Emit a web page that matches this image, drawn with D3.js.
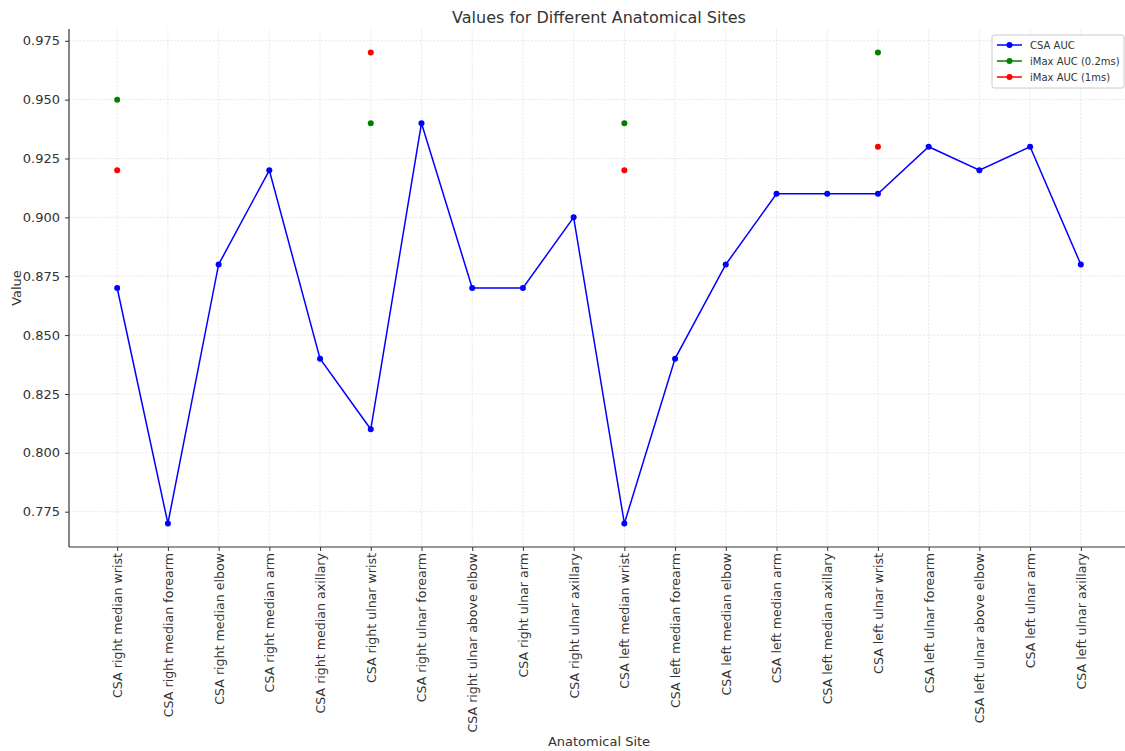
<!DOCTYPE html>
<html>
<head>
<meta charset="utf-8">
<script src="https://cdn.jsdelivr.net/npm/d3@7"></script>
<style>
  body { margin: 0; background: #fff; }
  text { font-family: "DejaVu Sans", sans-serif; fill: #333; }
</style>
</head>
<body>
<script>
var sites = [
  'CSA right median wrist', 'CSA right median forearm', 'CSA right median elbow',
  'CSA right median arm', 'CSA right median axillary', 'CSA right ulnar wrist',
  'CSA right ulnar forearm', 'CSA right ulnar above elbow', 'CSA right ulnar arm',
  'CSA right ulnar axillary', 'CSA left median wrist', 'CSA left median forearm',
  'CSA left median elbow', 'CSA left median arm', 'CSA left median axillary',
  'CSA left ulnar wrist', 'CSA left ulnar forearm', 'CSA left ulnar above elbow',
  'CSA left ulnar arm', 'CSA left ulnar axillary'
];
var csaAuc = [0.87, 0.77, 0.88, 0.92, 0.84, 0.81, 0.94, 0.87, 0.87, 0.90,
              0.77, 0.84, 0.88, 0.91, 0.91, 0.91, 0.93, 0.92, 0.93, 0.88];
var imax02Sites = ['CSA right median wrist', 'CSA right ulnar wrist', 'CSA left median wrist', 'CSA left ulnar wrist'];
var imax02Auc = [0.95, 0.94, 0.94, 0.97];
var imax1Sites = ['CSA right median wrist', 'CSA right ulnar wrist', 'CSA left median wrist', 'CSA left ulnar wrist'];
var imax1Auc = [0.92, 0.97, 0.92, 0.93];
var yTicks = [0.775, 0.800, 0.825, 0.850, 0.875, 0.900, 0.925, 0.950, 0.975];

var W = 1125, H = 751;
var plotLeft = 69, plotRight = 1129, plotTop = 29, plotBottom = 547;

var svg = d3.select('body').append('svg')
  .attr('width', W).attr('height', H);

var n = sites.length;
var x = d3.scaleLinear().domain([-0.95, n - 1 + 0.95]).range([plotLeft, plotRight]);
var y = d3.scaleLinear().domain([0.76, 0.98]).range([plotBottom, plotTop]);
var xi = function(s) { return x(sites.indexOf(s)); };

// grid
var grid = svg.append('g').attr('stroke', '#e2e2e2').attr('stroke-width', 0.8)
  .attr('stroke-dasharray', '2,1.5');
grid.selectAll('.gx').data(sites).enter().append('line')
  .attr('x1', function(d) { return xi(d); }).attr('x2', function(d) { return xi(d); })
  .attr('y1', plotTop).attr('y2', plotBottom);
grid.selectAll('.gy').data(yTicks).enter().append('line')
  .attr('x1', plotLeft).attr('x2', plotRight)
  .attr('y1', function(d) { return y(d); }).attr('y2', function(d) { return y(d); });

// axes
var yAxis = d3.axisLeft(y).tickValues(yTicks).tickFormat(d3.format('.3f')).tickSize(4).tickPadding(5);
var gy = svg.append('g').attr('transform', 'translate(' + plotLeft + ',0)').call(yAxis);
gy.selectAll('text').style('font-size', '13px').attr('fill', '#333');

var xAxis = d3.axisBottom(x).tickValues(d3.range(n)).tickFormat(function(i) { return sites[i]; })
  .tickSize(4).tickPadding(5);
var gx = svg.append('g').attr('transform', 'translate(0,' + plotBottom + ')').call(xAxis);
gx.selectAll('text').style('font-size', '12.6px').attr('fill', '#333')
  .attr('transform', 'rotate(-90)')
  .attr('text-anchor', 'end')
  .attr('x', -6).attr('y', 0).attr('dy', '0.35em');

svg.selectAll('.domain').attr('stroke', '#333').attr('stroke-width', 1.2);
svg.selectAll('.tick line').attr('stroke', '#333');
gy.select('.domain').attr('d', 'M0,' + plotTop + 'V' + plotBottom);
gx.select('.domain').attr('d', 'M' + plotLeft + ',0H' + plotRight);

// CSA line
var line = d3.line().x(function(d, i) { return x(i); }).y(function(d) { return y(d); });
svg.append('path').datum(csaAuc).attr('d', line)
  .attr('fill', 'none').attr('stroke', '#0000ff').attr('stroke-width', 1.5);
svg.selectAll('.csa').data(csaAuc).enter().append('circle')
  .attr('cx', function(d, i) { return x(i); }).attr('cy', function(d) { return y(d); })
  .attr('r', 3).attr('fill', '#0000ff');

svg.selectAll('.im02').data(imax02Auc).enter().append('circle')
  .attr('cx', function(d, i) { return xi(imax02Sites[i]); }).attr('cy', function(d) { return y(d); })
  .attr('r', 3).attr('fill', '#008000');
svg.selectAll('.im1').data(imax1Auc).enter().append('circle')
  .attr('cx', function(d, i) { return xi(imax1Sites[i]); }).attr('cy', function(d) { return y(d); })
  .attr('r', 3).attr('fill', '#ff0000');

// title and labels
svg.append('text').attr('x', (plotLeft + plotRight) / 2).attr('y', 23).attr('text-anchor', 'middle')
  .style('font-size', '16px').text('Values for Different Anatomical Sites');
svg.append('text').attr('x', (plotLeft + plotRight) / 2).attr('y', 746).attr('text-anchor', 'middle')
  .style('font-size', '13px').text('Anatomical Site');
svg.append('text').attr('transform', 'translate(21,' + ((plotTop + plotBottom) / 2) + ') rotate(-90)')
  .attr('text-anchor', 'middle').style('font-size', '13px').text('Value');

// legend
var legendItems = [
  { name: 'CSA AUC', color: '#0000ff' },
  { name: 'iMax AUC (0.2ms)', color: '#008000' },
  { name: 'iMax AUC (1ms)', color: '#ff0000' }
];
var lg = svg.append('g').attr('transform', 'translate(992,35)');
lg.append('rect').attr('width', 132).attr('height', 53).attr('rx', 2)
  .attr('fill', '#fff').attr('fill-opacity', 0.8).attr('stroke', '#ccc');
var li = lg.selectAll('.li').data(legendItems).enter().append('g')
  .attr('transform', function(d, i) { return 'translate(0,' + (10 + i * 16) + ')'; });
li.append('line').attr('x1', 5).attr('x2', 30).attr('stroke', function(d) { return d.color; })
  .attr('stroke-width', 1.5);
li.append('circle').attr('cx', 17.5).attr('r', 3).attr('fill', function(d) { return d.color; });
li.append('text').attr('x', 38).attr('dy', '0.35em').style('font-size', '10px')
  .text(function(d) { return d.name; });
</script>
</body>
</html>
